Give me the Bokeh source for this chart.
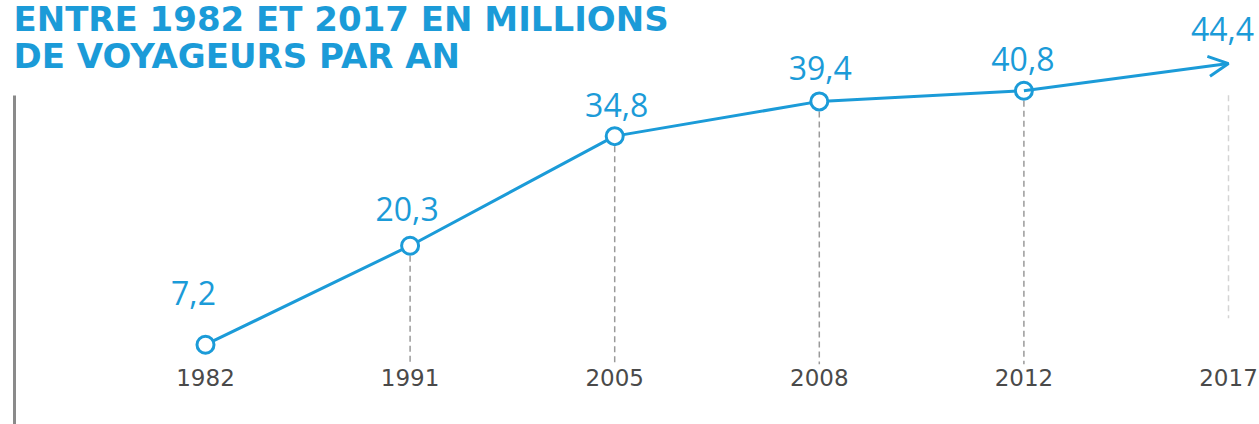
from bokeh.plotting import figure
from bokeh.models import ColumnDataSource, Range1d, LinearAxis, Arrow, OpenHead, Label, FixedTicker
from bokeh.core.properties import value
from bokeh.embed import file_html
from bokeh.resources import INLINE

# ---- data ----
years = ["1982", "1991", "2005", "2008", "2012", "2017"]
voyageurs = [7.2, 20.3, 34.8, 39.4, 40.8, 44.4]
labels = ["7,2", "20,3", "34,8", "39,4", "40,8", "44,4"]
title_lines = ["ENTRE 1982 ET 2017 EN MILLIONS", "DE VOYAGEURS PAR AN"]

# ---- styles ----
BLUE = "#1b9bd8"
GRAY = "#4a4a4a"
label_dx = [-12, -3, 2, 1, -1, -6]
label_dy = [-52, -37, -31, -33, -32, -35]
STEM_BOTTOM = 4.6
AXIS_TOP = 40.2
YEAR_Y = 2.86

idx = list(range(len(years)))

W, H = 1259, 424
p = figure(width=W, height=H, output_backend="svg", toolbar_location=None,
           x_range=Range1d(-0.9335, 5.1515), y_range=Range1d(-3.36, 52.75),
           x_axis_location=None, y_axis_location=None,
           min_border_left=14, min_border_right=0, min_border_top=0, min_border_bottom=0,
           outline_line_color=None)
p.grid.visible = False

# left gray rule
ax = LinearAxis(bounds=(-10, AXIS_TOP), ticker=FixedTicker(ticks=[]),
                major_tick_line_color=None, minor_tick_line_color=None,
                major_label_standoff=0, major_tick_out=0, minor_tick_out=0,
                axis_line_color="#8a8a8a", axis_line_width=3)
p.add_layout(ax, "left")

# dashed stems
stem = ColumnDataSource(dict(x=idx[1:5], y0=voyageurs[1:5], y1=[STEM_BOTTOM] * 4))
p.segment(x0="x", y0="y0", x1="x", y1="y1", source=stem, line_color="#9a9a9a",
          line_width=1.5, line_dash="6 4")
p.segment(x0=[idx[5]], y0=[voyageurs[5] - 4.2], x1=[idx[5]], y1=[10.7],
          line_color="#d4d4d4", line_width=1.5, line_dash="6 4")

# line + arrow
p.line(idx[:5], voyageurs[:5], line_color=BLUE, line_width=3)
p.add_layout(Arrow(end=OpenHead(size=20, line_color=BLUE, line_width=3),
                   x_start=idx[4], y_start=voyageurs[4], x_end=idx[5], y_end=voyageurs[5],
                   line_color=BLUE, line_width=3))
p.scatter(idx[:5], voyageurs[:5], size=17, fill_color="white", line_color=BLUE, line_width=3)

# value labels
src = ColumnDataSource(dict(x=idx, y=voyageurs, t=labels, dx=label_dx, dy=label_dy))
p.text(x="x", y="y", text="t", source=src, x_offset="dx", y_offset="dy",
       text_align="center", text_baseline="alphabetic", text_color=BLUE,
       text_font=value("Open Sans"), text_font_size="32px")

# year labels
ysrc = ColumnDataSource(dict(x=idx, y=[YEAR_Y] * len(idx), t=years))
p.text(x="x", y="y", text="t", source=ysrc, text_align="center", text_baseline="middle",
       text_color=GRAY, text_font=value("DejaVu Sans"), text_font_size="23px")

# title
for i, line in enumerate(title_lines):
    p.add_layout(Label(x=-1, y=H - 18 - 37 * i, x_units="screen", y_units="screen",
                       text=line, text_color=BLUE, text_font="DejaVu Sans",
                       text_font_style="bold", text_font_size="34px",
                       text_baseline="alphabetic"))

open("out.html", "w").write(file_html(p, INLINE))
